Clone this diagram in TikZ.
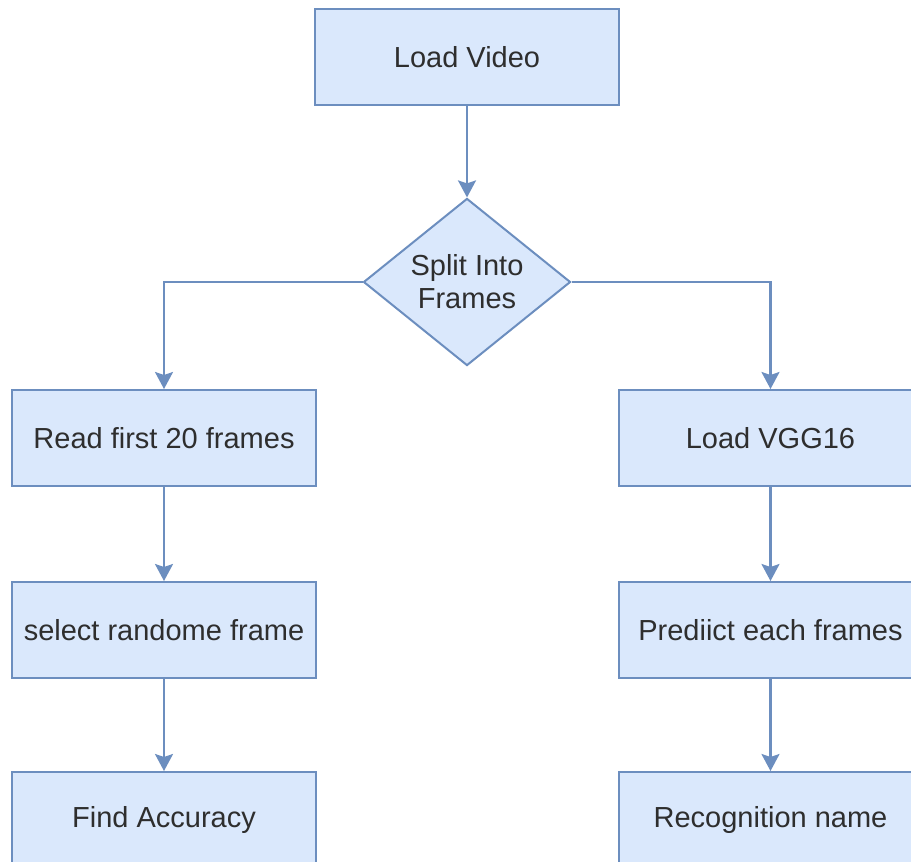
\documentclass[tikz,border=0pt]{standalone}
\usepackage{fontspec}
\setmainfont{Liberation Sans}
\usetikzlibrary{shapes.geometric,arrows.meta}
\definecolor{boxfill}{HTML}{DAE8FC}
\definecolor{boxline}{HTML}{6C8EBF}
\definecolor{txt}{HTML}{2E2E2E}
\begin{document}
\begin{tikzpicture}[x=1pt,y=-1pt,
  every node/.style={font=\fontsize{29}{33}\selectfont, text=txt},
  stepbox/.style={draw=boxline, fill=boxfill, line width=2pt,
    minimum width=304pt, minimum height=96pt, inner sep=0pt},
  decision/.style={diamond, draw=boxline, fill=boxfill, line width=2pt,
    minimum width=207pt, minimum height=156pt, inner sep=0pt, align=center},
  flow/.style={draw=boxline, line width=2.2pt,
    -{Stealth[width=18pt,length=17pt,inset=3pt]}}]
  % page area
  \fill[white] (0,0) rectangle (911,862);
  \useasboundingbox (0,0) rectangle (911,862);
  \clip (0,0) rectangle (911,862);

  % process steps
  \node[stepbox] (load) at (467,57) {Load Video};
  \node[decision] (split) at (467,282) {Split Into\\Frames};
  \node[stepbox] (read) at (164,438) {Read first 20 frames};
  \node[stepbox] (select) at (164,630) {select randome frame};
  \node[stepbox] (acc) at (164,820) {Find Accuracy};
  \node[stepbox] (vgg) at (770.5,438) {Load VGG16};
  \node[stepbox] (pred) at (770.5,630) {Prediict each frames};
  \node[stepbox] (rec) at (770.5,820) {Recognition name};

  % connectors
  \draw[flow] (load) -- (split);
  \draw[flow] (split.west) -| (read.north);
  \draw[flow] (split.east) -| (vgg.north);
  \draw[flow] (read) -- (select);
  \draw[flow] (select) -- (acc);
  \draw[flow] (vgg) -- (pred);
  \draw[flow] (pred) -- (rec);
\end{tikzpicture}
\end{document}
